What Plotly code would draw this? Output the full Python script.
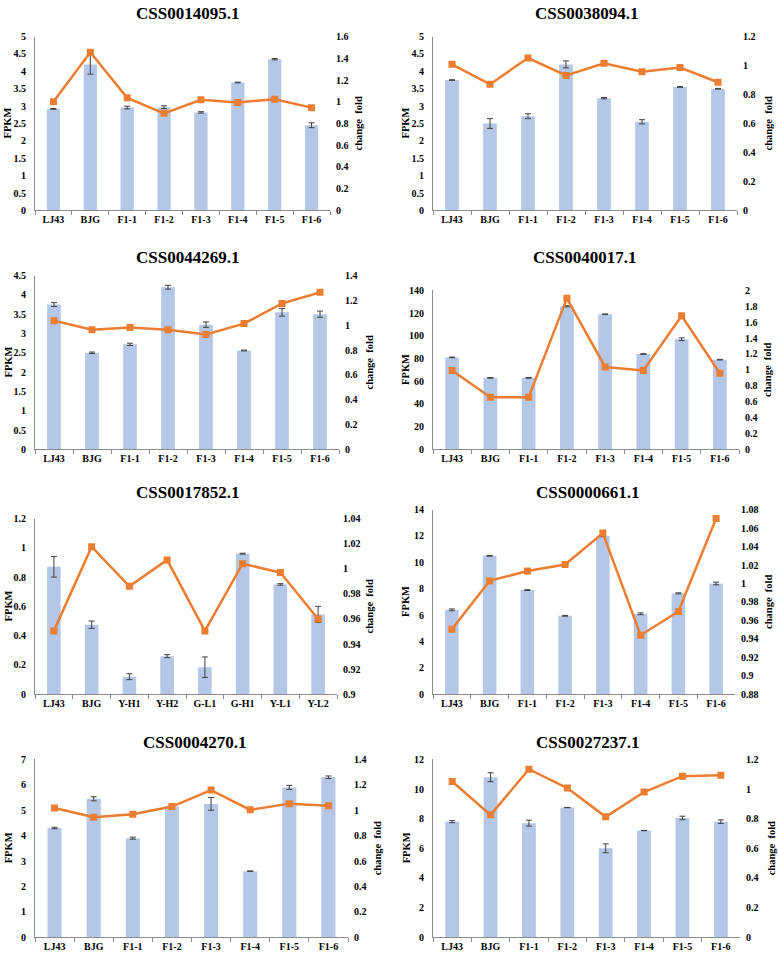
import plotly.graph_objects as go

W, H = 778, 959

cats_f1 = ["LJ43", "BJG", "F1-1", "F1-2", "F1-3", "F1-4", "F1-5", "F1-6"]
cats_y = ["LJ43", "BJG", "Y-H1", "Y-H2", "G-L1", "G-H1", "Y-L1", "Y-L2"]

titles = ["CSS0014095.1", "CSS0038094.1", "CSS0044269.1", "CSS0040017.1",
          "CSS0017852.1", "CSS0000661.1", "CSS0004270.1", "CSS0027237.1"]
left_title = "FPKM"
right_title = "change  fold"

fpkm_1 = [2.92, 4.2, 2.96, 2.97, 2.82, 3.68, 4.35, 2.45]
err_1 = [0.01, 0.28, 0.04, 0.04, 0.02, 0.01, 0.02, 0.07]
fold_1 = [1.0, 1.456, 1.036, 0.894, 1.018, 0.994, 1.024, 0.946]

fpkm_2 = [3.75, 2.5, 2.71, 4.2, 3.23, 2.55, 3.55, 3.5]
err_2 = [0.01, 0.14, 0.07, 0.1, 0.02, 0.06, 0.01, 0.01]
fold_2 = [1.009, 0.871, 1.052, 0.932, 1.016, 0.957, 0.986, 0.885]

fpkm_3 = [3.75, 2.5, 2.72, 4.2, 3.23, 2.56, 3.55, 3.5]
err_3 = [0.05, 0.02, 0.03, 0.05, 0.07, 0.01, 0.1, 0.08]
fold_3 = [1.037, 0.963, 0.981, 0.963, 0.926, 1.013, 1.175, 1.265]

fpkm_4 = [81, 63, 63, 126, 119, 84, 97, 79]
err_4 = [0.3, 0.3, 0.3, 0.5, 0.3, 0.3, 1.2, 0.3]
fold_4 = [0.992, 0.656, 0.656, 1.90, 1.037, 0.992, 1.68, 0.958]

fpkm_5 = [0.87, 0.475, 0.12, 0.26, 0.185, 0.96, 0.75, 0.545]
err_5 = [0.07, 0.025, 0.02, 0.01, 0.07, 0.003, 0.005, 0.055]
fold_5 = [0.9505, 1.0176, 0.986, 1.007, 0.9505, 1.004, 0.997, 0.960]

fpkm_6 = [6.4, 10.5, 7.9, 5.95, 12.0, 6.1, 7.65, 8.4]
err_6 = [0.07, 0.03, 0.03, 0.03, 0.05, 0.07, 0.04, 0.1]
fold_6 = [0.9505, 1.0028, 1.0135, 1.0206, 1.0547, 0.944, 0.9697, 1.0704]

fpkm_7 = [4.3, 5.45, 3.9, 5.15, 5.25, 2.6, 5.9, 6.3]
err_7 = [0.03, 0.08, 0.04, 0.05, 0.25, 0.01, 0.08, 0.05]
fold_7 = [1.018, 0.945, 0.969, 1.029, 1.159, 1.003, 1.052, 1.036]

fpkm_8 = [7.8, 10.8, 7.7, 8.75, 6.0, 7.2, 8.05, 7.8]
err_8 = [0.07, 0.3, 0.2, 0.01, 0.3, 0.01, 0.12, 0.12]
fold_8 = [1.051, 0.826, 1.134, 1.007, 0.8125, 0.98, 1.087, 1.094]

# left y range, left dtick, right y range, right dtick
axes_cfg = [
    ([0, 5], 0.5, [0, 1.6], 0.2),
    ([0, 5], 0.5, [0, 1.2], 0.2),
    ([0, 4.5], 0.5, [0, 1.4], 0.2),
    ([0, 140], 20, [0, 2], 0.2),
    ([0, 1.2], 0.2, [0.9, 1.04], 0.02),
    ([0, 14], 2, [0.88, 1.08], 0.02),
    ([0, 7], 1, [0, 1.4], 0.2),
    ([0, 12], 2, [0, 1.2], 0.2),
]

# plot area pixel boxes: left, right, top, bottom ; title centre x, y ; right-title x
boxes = [
    (35, 330, 31, 207, 187, 8, 359),
    (433, 737, 31, 207, 586, 8, 769),
    (35, 339, 273, 449, 187, 255, 369),
    (433, 739, 288, 449, 584, 255, 768),
    (35, 337, 519, 697, 187, 493, 369),
    (433, 735, 510, 697, 587, 493, 769),
    (35, 348, 763, 943, 194, 746, 377),
    (433, 740, 763, 943, 587, 746, 771),
]

panels = [
    (cats_f1, fpkm_1, err_1, fold_1),
    (cats_f1, fpkm_2, err_2, fold_2),
    (cats_f1, fpkm_3, err_3, fold_3),
    (cats_f1, fpkm_4, err_4, fold_4),
    (cats_y, fpkm_5, err_5, fold_5),
    (cats_f1, fpkm_6, err_6, fold_6),
    (cats_f1, fpkm_7, err_7, fold_7),
    (cats_f1, fpkm_8, err_8, fold_8),
]

FONT = "Liberation Serif"
BAR_COLOR = "#B4C7E7"
LINE_COLOR = "#ED7D31"
AXIS_COLOR = "#8C8C8C"

fig = go.Figure()
layout = dict(
    width=W, height=H,
    margin=dict(l=0, r=0, t=0, b=0),
    paper_bgcolor="white", plot_bgcolor="white",
    showlegend=False,
    font=dict(family=FONT, color="black", size=10, weight="bold"),
)
annotations = []

tickfont = dict(family=FONT, size=10, color="black", weight="bold")
titlefont = dict(family=FONT, size=10.5, color="black", weight="bold")

for i, ((cats, fpkm, err, fold), (yr, ydt, y2r, y2dt), (l, r, t, b, tx, ty, rx)) in enumerate(
        zip(panels, axes_cfg, boxes)):
    xi = i + 1
    yl = 2 * i + 1
    yr_id = 2 * i + 2
    xname = "x" if xi == 1 else f"x{xi}"
    ylname = "y" if yl == 1 else f"y{yl}"
    yrname = f"y{yr_id}"

    fig.add_trace(go.Bar(
        x=cats, y=fpkm, xaxis=xname, yaxis=ylname,
        marker=dict(color=BAR_COLOR, line=dict(width=0)),
        width=0.36,
        error_y=dict(type="data", array=err, visible=True,
                     color="#404040", thickness=1, width=3),
    ))
    fig.add_trace(go.Scatter(
        x=cats, y=fold, xaxis=xname, yaxis=yrname, mode="lines+markers",
        line=dict(color=LINE_COLOR, width=2.5),
        marker=dict(symbol="square", size=7, color=LINE_COLOR),
    ))

    xdom = [l / W, r / W]
    ydom = [1 - b / H, 1 - t / H]
    xkey = "xaxis" if xi == 1 else f"xaxis{xi}"
    ylkey = "yaxis" if yl == 1 else f"yaxis{yl}"
    yrkey = f"yaxis{yr_id}"

    layout[xkey] = dict(
        domain=xdom, anchor=ylname, type="category",
        range=[-0.5, 7.5], showline=True, linecolor=AXIS_COLOR, linewidth=1,
        ticks="outside", tickson="boundaries", ticklen=4, tickcolor=AXIS_COLOR,
        showgrid=False, tickfont=tickfont, fixedrange=True,
    )
    layout[ylkey] = dict(
        domain=ydom, anchor=xname, range=yr, dtick=ydt, tick0=yr[0],
        showline=True, linecolor=AXIS_COLOR, linewidth=1,
        ticks="", ticklabelstandoff=6,
        showgrid=False, zeroline=False, tickfont=tickfont,
    )
    layout[yrkey] = dict(
        domain=ydom, anchor=xname, overlaying=ylname, side="right",
        range=y2r, dtick=y2dt, tick0=y2r[0],
        showline=False, ticks="", ticklabelstandoff=5,
        showgrid=False, zeroline=False, tickfont=tickfont,
    )
    annotations.append(dict(
        text=titles[i], x=tx / W, y=1 - ty / H, xref="paper", yref="paper",
        xanchor="center", yanchor="middle", showarrow=False,
        font=dict(family=FONT, size=17, color="black", weight="bold"),
    ))
    ymid = 1 - (t + b) / 2 / H
    annotations.append(dict(
        text=left_title, x=(l - 27) / W, y=ymid, xref="paper", yref="paper",
        xanchor="center", yanchor="middle", showarrow=False, textangle=-90,
        font=titlefont,
    ))
    annotations.append(dict(
        text=right_title, x=rx / W, y=ymid, xref="paper", yref="paper",
        xanchor="center", yanchor="middle", showarrow=False, textangle=-90,
        font=titlefont,
    ))

layout["annotations"] = annotations
fig.update_layout(**layout)
fig.write_html(
    "out.html",
    config={"displayModeBar": False},
    post_script="document.body.style.margin='0';document.body.style.overflow='hidden';",
)
